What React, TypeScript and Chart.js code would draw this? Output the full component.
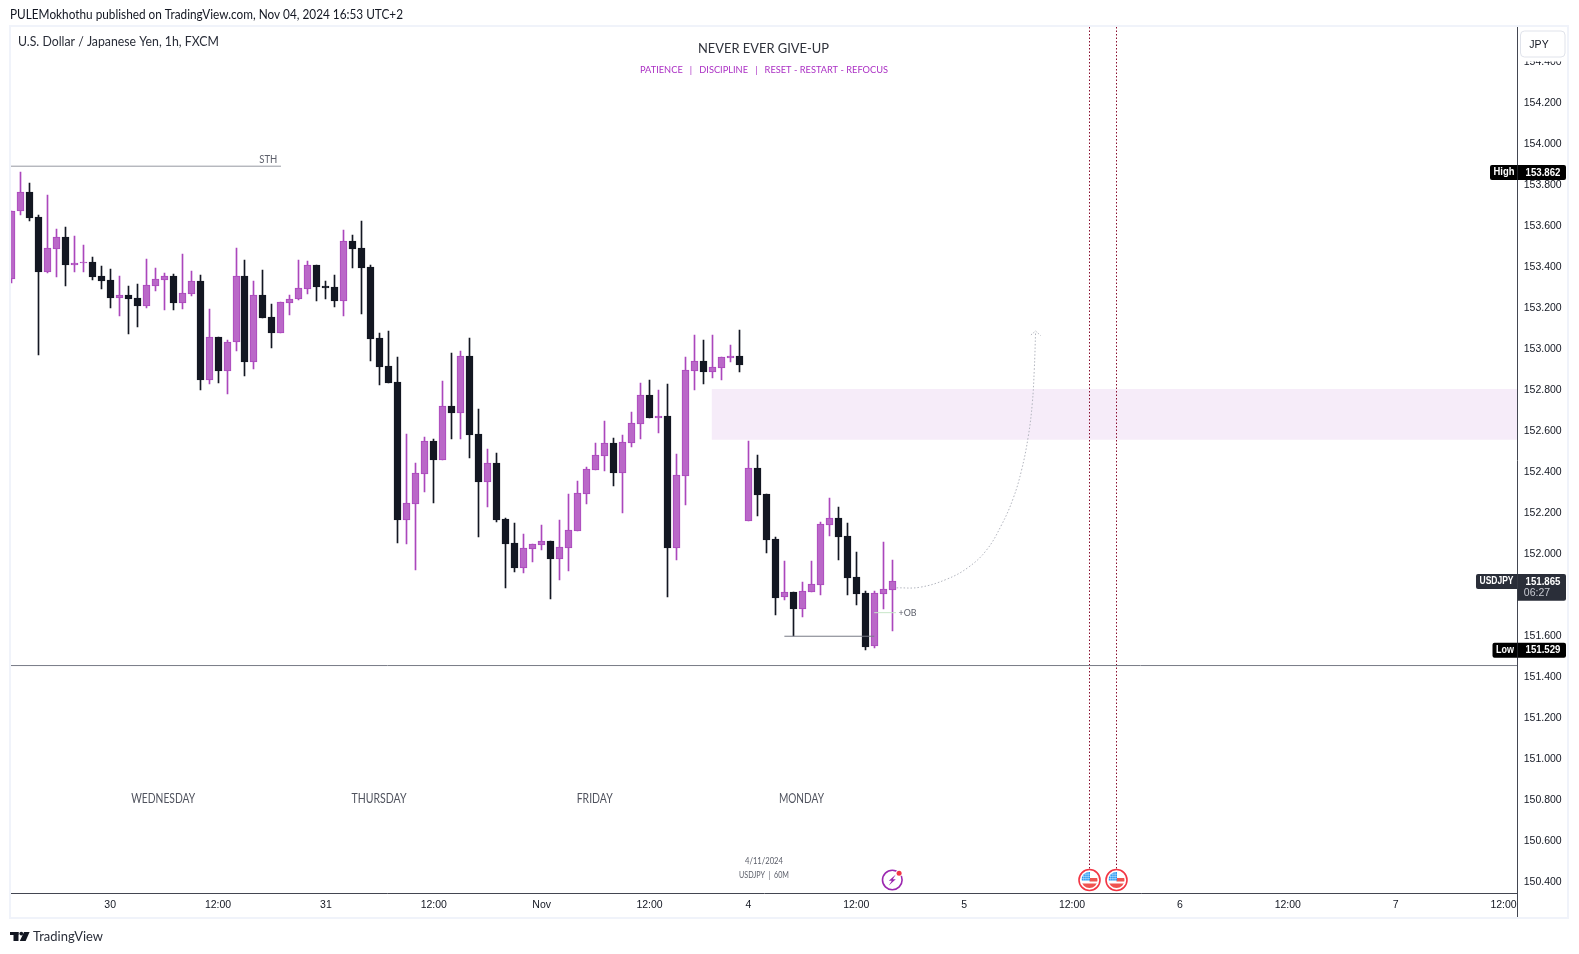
import React, { useEffect, useRef } from "react";
import { Chart, registerables } from "chart.js";

Chart.register(...registerables);

const opens = [153.336,153.668,153.760,153.639,153.374,153.486,153.541,153.408,153.417,153.419,153.352,153.331,153.247,153.260,153.243,153.208,153.305,153.334,153.351,153.222,153.266,153.326,152.847,153.053,152.891,153.029,153.351,152.935,153.258,153.151,153.076,153.222,153.239,153.291,153.404,153.304,153.297,153.232,153.521,153.487,153.395,153.048,152.912,152.836,152.164,152.242,152.388,152.548,152.457,152.718,152.686,152.962,152.582,152.349,152.440,152.167,152.050,151.930,152.023,152.042,152.060,151.974,152.027,152.110,152.291,152.408,152.476,152.538,152.393,152.540,152.632,152.772,152.662,152.670,152.027,152.379,152.891,152.938,152.886,152.905,152.954,152.962,152.159,152.416,152.289,152.070,151.784,151.811,151.730,151.813,151.847,152.140,152.172,152.084,151.884,151.806,151.545,151.803,151.823];
const highs = [153.668,153.862,153.806,153.648,153.747,153.580,153.590,153.548,153.502,153.443,153.400,153.385,153.351,153.304,153.312,153.434,153.390,153.365,153.360,153.458,153.375,153.356,153.190,153.053,153.039,153.487,153.429,153.326,153.380,153.214,153.224,153.258,153.429,153.424,153.404,153.326,153.356,153.575,153.551,153.619,153.404,153.073,153.082,152.958,152.582,152.439,152.567,152.558,152.840,152.977,152.987,153.050,152.704,152.507,152.489,152.172,152.148,152.094,152.044,152.138,152.060,152.162,152.289,152.351,152.419,152.538,152.645,152.562,152.575,152.689,152.831,152.845,152.797,152.826,152.484,152.958,153.065,153.040,153.065,152.956,153.016,153.089,152.548,152.479,152.289,152.079,151.962,151.811,151.860,151.962,152.153,152.270,152.226,152.148,152.006,151.816,151.816,152.055,151.967];
const lows = [153.320,153.652,153.622,152.969,153.369,153.349,153.305,153.374,153.374,153.334,153.291,153.198,153.159,153.071,153.105,153.198,153.281,153.188,153.188,153.193,153.256,152.798,152.827,152.832,152.778,152.988,152.866,152.900,153.149,153.003,153.076,153.164,153.237,153.266,153.232,153.242,153.203,153.159,153.393,153.169,152.939,152.822,152.832,152.050,152.047,151.918,152.299,152.247,152.457,152.558,152.558,152.465,152.079,152.226,152.153,151.831,151.909,151.904,151.958,152.016,151.777,151.870,151.914,152.110,152.240,152.408,152.401,152.328,152.197,152.518,152.558,152.660,152.587,151.787,151.967,152.236,152.797,152.826,152.855,152.845,152.933,152.884,152.159,152.182,151.999,151.699,151.772,151.597,151.689,151.813,151.797,152.084,151.967,151.797,151.748,151.529,151.538,151.728,151.621];
const closes = [153.668,153.760,153.637,153.374,153.487,153.541,153.408,153.414,153.419,153.349,153.330,153.247,153.258,153.242,153.208,153.307,153.336,153.351,153.222,153.268,153.326,152.847,153.053,152.891,153.029,153.351,152.935,153.258,153.149,153.076,153.224,153.239,153.292,153.404,153.300,153.295,153.232,153.521,153.486,153.393,153.047,152.910,152.832,152.162,152.244,152.390,152.546,152.455,152.717,152.684,152.961,152.577,152.348,152.439,152.162,152.045,151.928,152.024,152.044,152.058,151.972,152.029,152.112,152.292,152.410,152.478,152.536,152.392,152.541,152.634,152.771,152.660,152.670,152.026,152.380,152.892,152.936,152.884,152.907,152.956,152.962,152.918,152.414,152.284,152.065,151.782,151.810,151.728,151.814,151.849,152.141,152.171,152.079,151.879,151.801,151.543,151.805,151.824,151.865];

const priceTicks = [150.4,150.6,150.8,151.0,151.2,151.4,151.6,151.8,152.0,152.2,152.4,152.6,152.8,153.0,153.2,153.4,153.6,153.8,154.0,154.2,154.4];
const timeTickIndex = [11,23,35,47,59,71,82,94,106,118,130,142,154,166];
const timeTickLabels = ["30","12:00","31","12:00","Nov","12:00","4","12:00","5","12:00","6","12:00","7","12:00"];

const priceMin = 150.341;
const priceMax = 154.567;
const indexMin = -0.03;
const indexMax = 167.5;

const zoneIndex = [77.9, 167.5];
const zoneTop = 152.801;
const zoneBottom = 152.553;
const sthIndex = [-0.03, 30];
const sthPrice = 153.888;
const supportPrice = 151.452;
const sweepIndex = [86, 96];
const sweepPrice = 151.595;
const obIndex = [96, 100.8];
const obPrice = 151.71;
const eventIndex = [119.9, 123];
const eventPriceEnd = 150.43;
const arcIndex = [98.48,101.08,104.05,106.46,108.5,110.16,111.46,112.39,113.13,113.58,113.8,113.95];
const arcPrice = [151.831,151.834,151.873,151.931,152.016,152.138,152.268,152.406,152.569,152.731,152.894,153.081];
const arrowIndex = [113.43,113.95,114.5];
const arrowPrice = [153.065,153.084,153.062];

const highValue = 153.862;
const lowValue = 151.529;
const lastValue = 151.865;
const countdown = "06:27";
const dayLabels = ["WEDNESDAY","THURSDAY","FRIDAY","MONDAY"];
const dayIndex = [16.9,40.9,64.9,87.9];

const UP_FILL = "#ba68c8";
const UP_LINE = "#ab47bc";
const DOWN = "#131722";
const BODY_FONT = "Lato, 'Noto Sans', sans-serif";
const AXIS_FONT = "'Liberation Sans', Arial, sans-serif";

const isUp = (i: number) => closes[i] >= opens[i];
const pts = (xs: number[], ys: number[]) => xs.map((x, i) => ({ x, y: ys[i] }));
const lineDs = (data: any[], color: string, order: number, extra: any = {}) => ({
  type: "line",
  data,
  borderColor: color,
  borderWidth: 1,
  pointRadius: 0,
  pointHoverRadius: 0,
  order,
  clip: 0,
  ...extra,
});

function label(ctx: any, s: string, x: number, y: number, font: string, color: string, align: any = "center", maxWidth?: number) {
  ctx.font = font;
  ctx.fillStyle = color;
  ctx.textAlign = align;
  ctx.textBaseline = "middle";
  if (maxWidth) ctx.fillText(s, x, y, maxWidth);
  else ctx.fillText(s, x, y);
}

function roundBox(ctx: any, x: number, y: number, w: number, h: number, r: any, fill: string) {
  ctx.beginPath();
  ctx.roundRect(x, y, w, h, r);
  ctx.fillStyle = fill;
  ctx.fill();
}

function flag(ctx: any, cx: number, cy: number) {
  ctx.save();
  ctx.beginPath();
  ctx.arc(cx, cy, 10.5, 0, Math.PI * 2);
  ctx.fillStyle = "#ffffff";
  ctx.fill();
  ctx.strokeStyle = "#f23645";
  ctx.lineWidth = 1.6;
  ctx.stroke();
  ctx.beginPath();
  ctx.arc(cx, cy, 8, 0, Math.PI * 2);
  ctx.clip();
  ctx.fillStyle = "#ef5350";
  ctx.fillRect(cx, cy - 2, 9, 3.5);
  ctx.fillRect(cx - 9, cy + 3.5, 18, 5);
  ctx.fillStyle = "#2196f3";
  ctx.fillRect(cx - 8, cy - 8, 8.5, 8.5);
  ctx.strokeStyle = "rgba(255,255,255,0.7)";
  ctx.lineWidth = 0.6;
  for (let k = 1; k < 4; k++) {
    ctx.beginPath();
    ctx.moveTo(cx - 8 + k * 2.2, cy - 8);
    ctx.lineTo(cx - 8 + k * 2.2, cy + 0.5);
    ctx.moveTo(cx - 8, cy - 8 + k * 2.2);
    ctx.lineTo(cx + 0.5, cy - 8 + k * 2.2);
    ctx.stroke();
  }
  ctx.restore();
}

function bolt(ctx: any, cx: number, cy: number) {
  ctx.save();
  ctx.beginPath();
  ctx.arc(cx, cy, 9.8, 0, Math.PI * 2);
  ctx.fillStyle = "#ffffff";
  ctx.fill();
  ctx.strokeStyle = "#9c27b0";
  ctx.lineWidth = 1.6;
  ctx.stroke();
  ctx.beginPath();
  ctx.moveTo(cx + 3.5, cy - 5.5);
  ctx.lineTo(cx - 3.5, cy + 0.8);
  ctx.lineTo(cx - 0.5, cy + 0.8);
  ctx.lineTo(cx - 3.5, cy + 5.5);
  ctx.lineTo(cx + 3.5, cy - 0.8);
  ctx.lineTo(cx + 0.5, cy - 0.8);
  ctx.closePath();
  ctx.fillStyle = "#9c27b0";
  ctx.fill();
  ctx.beginPath();
  ctx.arc(cx + 6.8, cy - 6.7, 3.4, 0, Math.PI * 2);
  ctx.fillStyle = "#ffffff";
  ctx.fill();
  ctx.beginPath();
  ctx.arc(cx + 6.8, cy - 6.7, 2.5, 0, Math.PI * 2);
  ctx.fillStyle = "#f23645";
  ctx.fill();
  ctx.restore();
}

const chromePlugin = {
  id: "chrome",
  afterDatasetsUpdate(chart: any) {
    chart.getSortedVisibleDatasetMetas().forEach((meta: any) => {
      const snapAll = meta.type === "bar";
      const snapX = meta.controller.getDataset().snapX;
      if (!snapAll && !snapX) return;
      meta.data.forEach((el: any) => {
        el.x = Math.floor(el.x) + 0.5;
        if (snapAll) {
          const a = Math.round(el.y);
          let b = Math.round(el.base);
          if (a === b) b = a + 1;
          el.y = a;
          el.base = b;
        }
      });
    });
  },
  beforeDraw(chart: any) {
    const ctx = chart.ctx;
    ctx.save();
    ctx.fillStyle = "#ffffff";
    ctx.fillRect(0, 0, chart.width, chart.height);
    ctx.strokeStyle = "#f0f3fa";
    ctx.lineWidth = 2;
    ctx.strokeRect(10, 26, 1558, 892);
    ctx.restore();
  },
  afterDraw(chart: any) {
    const ctx = chart.ctx;
    const x = chart.scales.x;
    const y = chart.scales.y;
    const px = (v: number) => x.getPixelForValue(v);
    const py = (v: number) => y.getPixelForValue(v);
    ctx.save();

    ctx.strokeStyle = "#434651";
    ctx.lineWidth = 1;
    ctx.beginPath();
    ctx.moveTo(1517.5, 890);
    ctx.lineTo(1517.5, 917);
    ctx.stroke();

    label(ctx, "PULEMokhothu published on TradingView.com, Nov 04, 2024 16:53 UTC+2", 10, 14.7, `12.5px ${BODY_FONT}`, "#131722", "left", 393);
    label(ctx, "U.S. Dollar / Japanese Yen, 1h, FXCM", 18, 42, `12.5px ${BODY_FONT}`, "#2a2e39", "left", 201);
    label(ctx, "NEVER EVER GIVE-UP", 763.5, 48, `14px ${BODY_FONT}`, "#2f323b", "center", 131);
    label(ctx, "PATIENCE   |   DISCIPLINE   |   RESET - RESTART - REFOCUS", 764, 69.5, `10px ${BODY_FONT}`, "#ab2fc4", "center", 248);

    label(ctx, "STH", px(28.6), py(153.92), `10.5px ${BODY_FONT}`, "#5d606b", "center", 18);
    ctx.fillStyle = "#ffffff";
    ctx.fillRect(896, 606, 22, 14);
    label(ctx, "+OB", 907.5, 612.7, `10px ${BODY_FONT}`, "#5d606b", "center", 18);

    dayLabels.forEach((d, i) => {
      const widths = [64, 55, 36, 45];
      label(ctx, d, px(dayIndex[i]), py(150.8), `13px ${BODY_FONT}`, "#50535e", "center", widths[i]);
    });
    label(ctx, "4/11/2024", 764, 861, `8.5px ${BODY_FONT}`, "#5d606b", "center", 38);
    label(ctx, "USDJPY  |  60M", 764, 875, `8.5px ${BODY_FONT}`, "#5d606b", "center", 50);

    bolt(ctx, 892.3, 880);
    flag(ctx, Math.floor(px(eventIndex[0])) + 0.5, 880);
    flag(ctx, Math.floor(px(eventIndex[1])) + 0.5, 880);

    ctx.fillStyle = "#ffffff";
    ctx.fillRect(1518.5, 28, 48, 33.5);
    roundBox(ctx, 1520.5, 31, 44.5, 26, 4, "#ffffff");
    ctx.strokeStyle = "#e0e3eb";
    ctx.lineWidth = 1;
    ctx.stroke();
    label(ctx, "JPY", 1539, 45, `10.5px ${AXIS_FONT}`, "#131722");

    const yH = py(highValue) + 1;
    roundBox(ctx, 1490, yH - 7.5, 27, 15, [2, 0, 0, 2], "#000000");
    roundBox(ctx, 1517.5, yH - 7.5, 48.5, 15, [0, 2, 2, 0], "#000000");
    label(ctx, "High", 1504, yH, `bold 10px ${AXIS_FONT}`, "#ffffff", "center", 21);
    label(ctx, highValue.toFixed(3), 1543, yH, `bold 11px ${AXIS_FONT}`, "#ffffff", "center", 35);

    const yL = py(lowValue) + 0.5;
    roundBox(ctx, 1492.5, yL - 7.5, 24.5, 15, [2, 0, 0, 2], "#000000");
    roundBox(ctx, 1517.5, yL - 7.5, 48.5, 15, [0, 2, 2, 0], "#000000");
    label(ctx, "Low", 1505, yL, `bold 10px ${AXIS_FONT}`, "#ffffff", "center", 18);
    label(ctx, lowValue.toFixed(3), 1543, yL, `bold 11px ${AXIS_FONT}`, "#ffffff", "center", 35);

    roundBox(ctx, 1476, 574, 41, 15, [2, 0, 0, 2], "#2a2e39");
    roundBox(ctx, 1517.5, 574, 48.5, 26.7, [0, 2, 2, 0], "#2a2e39");
    label(ctx, "USDJPY", 1496.5, 581.5, `bold 10px ${AXIS_FONT}`, "#ffffff", "center", 34);
    label(ctx, lastValue.toFixed(3), 1543, 581.7, `bold 11px ${AXIS_FONT}`, "#ffffff", "center", 35);
    label(ctx, countdown, 1537, 593.5, `10.5px ${AXIS_FONT}`, "#c8cad2");

    ctx.fillStyle = "#131722";
    ctx.fillRect(10, 932, 8.5, 3);
    ctx.fillRect(13.5, 932, 5, 9);
    ctx.beginPath();
    ctx.arc(21.3, 933.6, 1.9, 0, Math.PI * 2);
    ctx.fill();
    ctx.beginPath();
    ctx.moveTo(24, 932);
    ctx.lineTo(29.6, 932);
    ctx.lineTo(25.6, 941);
    ctx.lineTo(19.8, 941);
    ctx.closePath();
    ctx.fill();
    label(ctx, "TradingView", 33, 936.7, `14px ${BODY_FONT}`, "#2a2e39", "left", 70);
    ctx.restore();
  },
};

export default function App() {
  const ref = useRef<HTMLCanvasElement>(null);
  useEffect(() => {
    if (!ref.current) return;
    const indices = opens.map((_, i) => i);
    const chart = new Chart(ref.current, {
      type: "bar",
      data: {
        datasets: [
          lineDs(pts(zoneIndex, [zoneTop, zoneTop]), "rgba(0,0,0,0)", 60, { borderWidth: 0, fill: { value: zoneBottom }, backgroundColor: "#f6ecf9" }),
          lineDs(pts(sthIndex, [sthPrice, sthPrice]), "#9598a1", 50),
          lineDs(pts([indexMin, indexMax], [supportPrice, supportPrice]), "#787b86", 50),
          lineDs(pts([eventIndex[0], eventIndex[0]], [priceMax, eventPriceEnd]), "#880e2f", 50, { borderDash: [1.5, 2], snapX: true }),
          lineDs(pts([eventIndex[1], eventIndex[1]], [priceMax, eventPriceEnd]), "#880e2f", 50, { borderDash: [1.5, 2], snapX: true }),
          {
            label: "wicks",
            data: indices.map((i) => ({ x: i, y: [lows[i], highs[i]] })),
            backgroundColor: (c: any) => (isUp(c.dataIndex) ? UP_LINE : DOWN),
            barThickness: 1,
            grouped: false,
            borderWidth: 0,
            order: 30,
            clip: 0,
          },
          {
            label: "bodies",
            data: indices.map((i) => ({ x: i, y: [opens[i], closes[i]] })),
            backgroundColor: (c: any) => (isUp(c.dataIndex) ? UP_FILL : DOWN),
            borderColor: (c: any) => (isUp(c.dataIndex) ? UP_LINE : DOWN),
            borderWidth: 1,
            borderSkipped: false,
            barThickness: 7,
            grouped: false,
            order: 20,
            clip: 0,
          },
          lineDs(pts(sweepIndex, [sweepPrice, sweepPrice]), "#787b86", 10),
          lineDs(pts(obIndex, [obPrice, obPrice]), "#c8e6c9", 10),
          lineDs(pts(arcIndex, arcPrice), "#b2b5be", 10, { tension: 0.4, borderDash: [1.5, 2] }),
          lineDs(pts(arrowIndex, arrowPrice), "#b2b5be", 10, { borderDash: [1.5, 1.5] }),
        ] as any,
      },
      options: {
        animation: false,
        responsive: false,
        devicePixelRatio: 1,
        layout: { padding: { left: 11, top: 27, right: 11, bottom: 35.7 } },
        plugins: { legend: { display: false }, tooltip: { enabled: false }, title: { display: false } },
        events: [],
        scales: {
          x: {
            type: "linear",
            offset: false,
            min: indexMin,
            max: indexMax,
            grid: { display: false, offset: false, drawTicks: false },
            border: { color: "#434651", width: 1 },
            afterFit: (s: any) => { s.height = 25; },
            afterBuildTicks: (s: any) => { s.ticks = timeTickIndex.map((v) => ({ value: v })); },
            ticks: {
              autoSkip: false,
              maxRotation: 0,
              padding: 6,
              color: "#131722",
              font: { family: AXIS_FONT, size: 10.5 },
              callback: (v: any) => timeTickLabels[timeTickIndex.indexOf(Number(v))],
            },
          },
          y: {
            type: "linear",
            position: "right",
            min: priceMin,
            max: priceMax,
            grid: { display: false, drawTicks: false },
            border: { color: "#434651", width: 1 },
            afterFit: (s: any) => { s.width = 51; },
            afterBuildTicks: (s: any) => { s.ticks = priceTicks.map((v) => ({ value: v })); },
            ticks: {
              padding: 6.7,
              labelOffset: 1,
              color: "#131722",
              font: { family: AXIS_FONT, size: 10.5 },
              callback: (v: any) => Number(v).toFixed(3),
            },
          },
        },
      } as any,
      plugins: [chromePlugin],
    });
    return () => chart.destroy();
  }, []);
  return (
    <div style={{ position: "absolute", left: 0, top: 0, width: 1579, height: 954, overflow: "hidden" }}>
      <canvas ref={ref} width={1579} height={954} style={{ display: "block", width: 1579, height: 954 }} />
    </div>
  );
}
